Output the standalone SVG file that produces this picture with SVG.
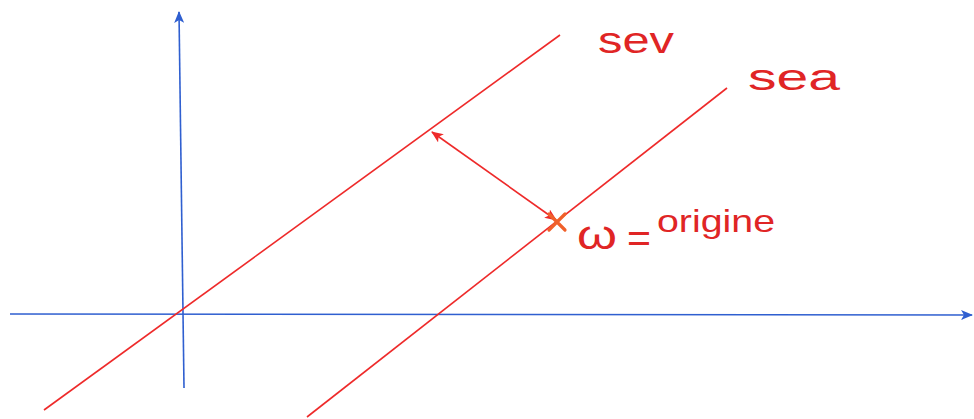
<svg xmlns="http://www.w3.org/2000/svg" width="974" height="419" viewBox="0 0 974 419">
<defs>
<style>
.axis{stroke:#2f5fd0;stroke-width:1.6;fill:none}
.red{stroke:#ee2a2a;stroke-width:1.6;fill:none}
.lbl{fill:#e02525;font-family:"Liberation Sans",Arial,sans-serif}
</style>
<marker id="ab" viewBox="0 0 12 10" refX="11" refY="5" markerWidth="12" markerHeight="10" markerUnits="userSpaceOnUse" orient="auto">
<path d="M0,0 L12,5 L0,10 L3,5 Z" fill="#2f5fd0"/>
</marker>
<marker id="ar" viewBox="0 0 12 10" refX="11" refY="5" markerWidth="12" markerHeight="10" markerUnits="userSpaceOnUse" orient="auto-start-reverse">
<path d="M0,0 L12,5 L0,10 L3,5 Z" fill="#ee2a2a"/>
</marker>
</defs>
<rect width="974" height="419" fill="#ffffff"/>
<g id="connectors">
<line id="y-axis" class="axis" x1="184" y1="388" x2="179" y2="12" marker-end="url(#ab)"/>
<line id="x-axis" class="axis" x1="10" y1="314" x2="972" y2="315" marker-end="url(#ab)"/>
<line id="sev-line" class="red" x1="44" y1="410" x2="560" y2="35"/>
<line id="sea-line" class="red" x1="307" y1="417" x2="727" y2="88"/>
<line id="distance" class="red" stroke-width="1.3" x1="432" y1="132" x2="556" y2="220" marker-start="url(#ar)" marker-end="url(#ar)"/>
</g>
<g id="omega-point">
<path d="M549,214 L565,230 M565,214 L549,230" stroke="#f0602a" stroke-width="3.2" stroke-linecap="round" fill="none"/>
</g>
<g id="label-sev"><text class="lbl" x="598" y="53" font-size="36" textLength="76" lengthAdjust="spacingAndGlyphs">sev</text></g>
<g id="label-sea"><text class="lbl" x="748" y="90" font-size="36" textLength="92" lengthAdjust="spacingAndGlyphs">sea</text></g>
<g id="label-omega">
<text class="lbl" x="577" y="249" font-size="40" textLength="40" lengthAdjust="spacingAndGlyphs">ω</text>
<text class="lbl" x="627" y="252" font-size="40" textLength="24" lengthAdjust="spacingAndGlyphs">=</text>
<text class="lbl" x="657" y="232" font-size="32" textLength="118" lengthAdjust="spacingAndGlyphs">origine</text>
</g>
</svg>
